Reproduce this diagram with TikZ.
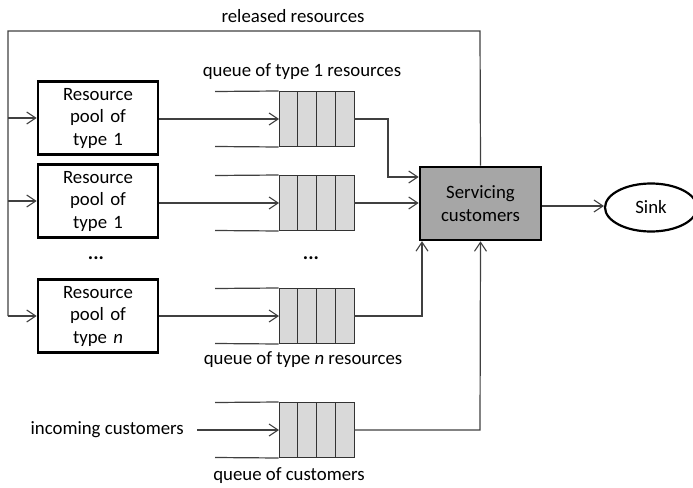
\documentclass[tikz,border=0pt]{standalone}
\usepackage{fontspec}
\setmainfont{Carlito}
\usetikzlibrary{arrows.meta,shapes.geometric}
\begin{document}
\begin{tikzpicture}[x=1pt,y=-1pt,
  font=\fontsize{18.8}{22.5}\selectfont,
  conn/.style={draw=black!75,line width=1.2pt},
  arr/.style={conn,-{Straight Barb[length=9pt,width=12pt,line width=1.1pt]}},
  pool/.style={draw=black,line width=2.6pt,minimum width=120pt,minimum height=73pt,inner sep=1pt,align=center,text width=110pt},
  qcell/.style={draw=black!80,fill=black!15,line width=1pt,minimum width=18.75pt,minimum height=55pt,inner sep=0pt},
  lbl/.style={inner sep=1pt}]
\useasboundingbox (0,0) rectangle (693,487);

% pools
\node[pool] (p1) at (98,118) {Resource\\pool of\\type 1};
\node[pool] (p2) at (98,201) {Resource\\pool of\\type 1};
\node[pool] (pn) at (98,316) {Resource\\pool of\\type \emph{n}};
\node[lbl,font=\fontsize{20}{20}\selectfont\bfseries] (d1) at (96,258) {...};
\node[lbl,font=\fontsize{20}{20}\selectfont\bfseries] (d2) at (311,258) {...};

% queues: four cells each
\foreach \q/\y in {q1/119,q2/203,qn/316,qc/430}{
  \foreach \i in {0,1,2,3}{
    \node[qcell] (\q c\i) at ({288.4+\i*18.75},\y) {};
  }
  \coordinate (\q in) at (279,\y);
  \coordinate (\q out) at (354,\y);
  \coordinate (\q tl) at (215,\y-27.5);
  \coordinate (\q bl) at (215,\y+27.5);
  \draw[conn] (\q tl) -- (\q c0.north west);
  \draw[conn] (\q bl) -- (\q c0.south west);
}

% servicing and sink
\node[draw=black,line width=2.6pt,fill=black!35,minimum width=121pt,minimum height=73pt,align=center,inner sep=1pt] (srv) at (480.5,203.5) {Servicing\\customers};
\node[draw=black,line width=2.2pt,ellipse,minimum width=92pt,minimum height=48pt,inner sep=0pt] (sink) at (651,207.5) {Sink};

% labels
\node[lbl] (lrel) at (293,16) {released resources};
\node[lbl] (lq1) at (302,72) {queue of type 1 resources};
\node[lbl] (lqn) at (303,360) {queue of type \emph{n} resources};
\node[lbl] (lqc) at (289,476) {queue of customers};
\node[lbl,anchor=east] (linc) at (185,430) {incoming customers};

% feedback loop
\coordinate (tr) at (480,31);
\coordinate (tl) at (8,31);
\coordinate (bl) at (8,316);
\draw[conn] (srv.north) -- (tr) -- (tl) -- (bl);
\draw[arr] (8,118) -- (p1.west);
\draw[arr] (8,201) -- (p2.west);
\draw[arr] (bl) -- (pn.west);

% pools to queues
\draw[arr] (p1.east |- q1in) -- (q1in);
\draw[arr] (p2.east |- q2in) -- (q2in);
\draw[arr] (pn.east |- qnin) -- (qnin);
\draw[arr] (197,430) -- (qcin);

% queues to servicing
\draw[arr] (q1out) -- (388,119) -- (388,177) -- (srv.west |- 0,177);
\draw[arr] (q2out) -- (srv.west |- q2out);
\draw[arr] (qnout) -- (422,316) -- (422,241.2);
\draw[arr] (qcout) -- (480,430) -- (srv.south);

% servicing to sink
\draw[arr] (srv.east |- 0,206) -- (sink.west |- 0,206);
\end{tikzpicture}
\end{document}
